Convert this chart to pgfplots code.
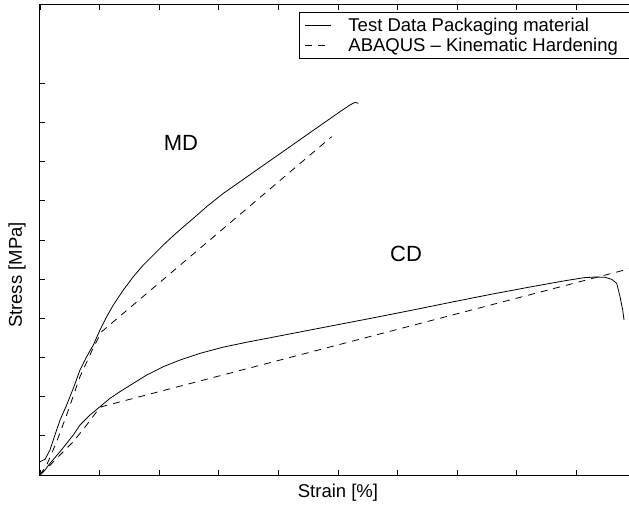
\documentclass[border=0pt]{standalone}
\usepackage{pgfplots}
\pgfplotsset{compat=1.18}
\usepackage{fontspec}
\setmainfont{Liberation Sans}
\begin{document}
\begin{tikzpicture}
\begin{axis}[
  name=ax,
  scale only axis,
  width=596pt, height=470pt,
  xmin=0, xmax=10, ymin=0, ymax=12,
  xtick={0,...,10}, ytick={0,...,10},
  xticklabels={}, yticklabels={},
  tick align=inside,
  major tick length=5pt,
  axis line style={line width=1pt},
  every tick/.style={black, line width=0.8pt},
  font=\fontsize{18.5}{22}\selectfont,
  xlabel={Strain [\%]},
  ylabel={Stress [MPa]},
  xlabel style={at={(axis description cs:0.5,-0.0383)}, anchor=center},
  ylabel style={at={(axis description cs:-0.0386,0.4255)}, anchor=center},
  legend style={name=leg, at={(axis description cs:0.4362,0.9836)}, anchor=north west, draw=none,
    font=\fontsize{18.5}{22}\selectfont, inner xsep=4pt, inner ysep=2.5pt, row sep=0.5pt,
    nodes={inner sep=2.5pt},
    /tikz/every odd column/.append style={column sep=15pt},
    cells={anchor=west}},
  legend image code/.code={\draw[#1, line width=0.8pt] (0pt,0pt) -- (26pt,0pt);},
]
% MD test data
\addplot[black, line width=0.8pt] coordinates {
(0,0.34) (0.084,0.40) (0.168,0.64) (0.224,0.90) (0.336,1.404) (0.447,1.787)
(0.559,2.213) (0.671,2.681) (0.783,3.021) (0.895,3.319) (1.007,3.702) (1.119,4.043)
(1.230,4.340) (1.398,4.723) (1.566,5.064) (1.734,5.362) (1.902,5.617) (2.069,5.872)
(2.237,6.110) (2.405,6.335) (2.573,6.553) (2.796,6.851) (3.076,7.191) (3.356,7.489)
(3.635,7.787) (3.915,8.085) (4.195,8.383) (4.474,8.681) (4.754,8.979) (5.034,9.277)
(5.201,9.447) (5.285,9.515) (5.341,9.489)
};
\addlegendentry{Test Data Packaging material}
% MD ABAQUS
\addplot[black, line width=0.8pt, dash pattern=on 7pt off 6pt] coordinates {
(0,0) (0.112,0.255) (0.28,0.85) (0.447,1.532) (0.671,2.511) (0.895,3.25)
(1.035,3.66) (4.894,8.638)
};
\addlegendentry{ABAQUS -- Kinematic Hardening}
% CD test data
\addplot[black, line width=0.8pt, forget plot] coordinates {
(0,0) (0.084,0.13) (0.168,0.298) (0.336,0.596) (0.559,1.021) (0.671,1.277)
(0.839,1.532) (1.007,1.745) (1.174,1.957) (1.342,2.128) (1.566,2.340) (1.790,2.553)
(2.069,2.766) (2.349,2.936) (2.685,3.106) (3.076,3.265) (3.468,3.39) (3.915,3.52)
(4.44,3.675) (5.038,3.85) (5.668,4.035) (6.297,4.225) (6.927,4.42) (7.557,4.61)
(8.186,4.79) (8.816,4.962) (9.131,5.038) (9.320,5.055) (9.480,5.047) (9.592,4.996)
(9.676,4.894) (9.732,4.552) (9.777,4.212) (9.799,3.957)
};
% CD ABAQUS
\addplot[black, line width=0.8pt, dash pattern=on 7pt off 6pt, forget plot] coordinates {
(0,0) (0.168,0.25) (0.336,0.51) (0.559,0.851) (0.783,1.277) (0.951,1.617)
(1.035,1.745) (10,5.31)
};
\node[font=\fontsize{22}{26}\selectfont] at (axis cs:2.366,8.476) {MD};
\node[font=\fontsize{22}{26}\selectfont] at (axis cs:6.141,5.642) {CD};
\end{axis}
\draw[line width=1pt] ([xshift=30pt]ax.north east |- leg.north) -- (leg.north west) -- (leg.south west) -- ([xshift=30pt]ax.north east |- leg.south);
\pgfresetboundingbox
\useasboundingbox ([xshift=-40pt,yshift=-31pt]ax.south west) rectangle ([xshift=-7pt,yshift=5pt]ax.north east);
\end{tikzpicture}
\end{document}
